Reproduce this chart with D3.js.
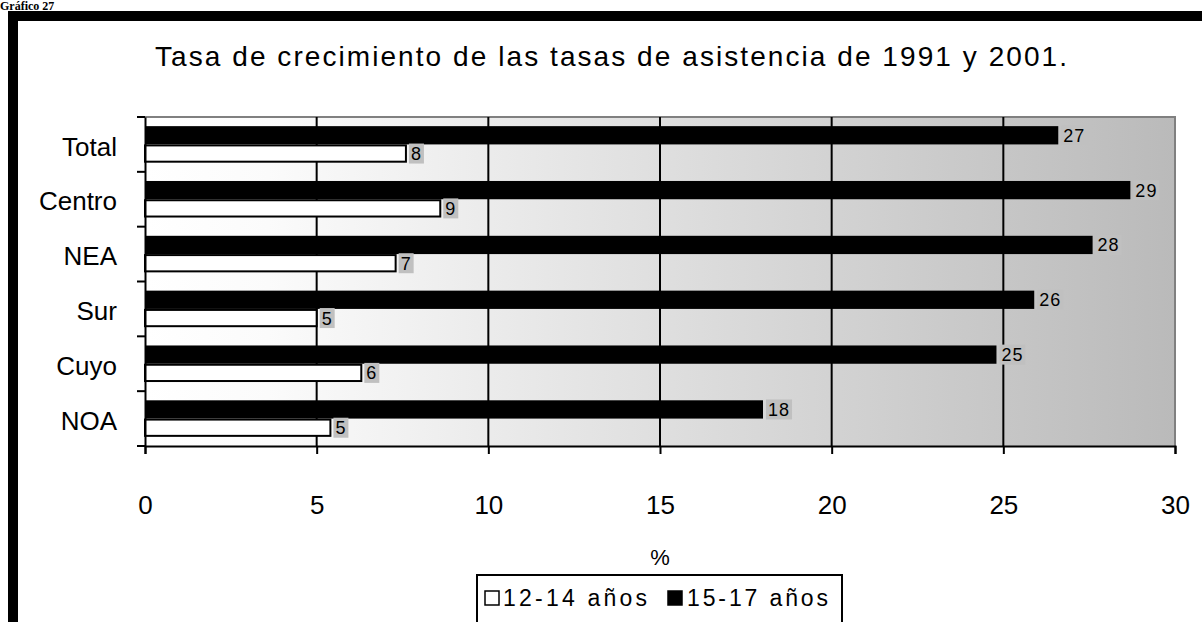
<!DOCTYPE html>
<html>
<head>
<meta charset="utf-8">
<script src="https://cdn.jsdelivr.net/npm/d3@7"></script>
<style>
  html, body { margin: 0; padding: 0; background: #fff; }
  svg { display: block; }
  text { font-family: "Liberation Sans", Arial, sans-serif; fill: #000; }
</style>
</head>
<body>
<svg id="chart" width="1202" height="622"></svg>
<script>
// Growth rate of school attendance rates, 1991 vs 2001, by region (%)
const categories = ["Total", "Centro", "NEA", "Sur", "Cuyo", "NOA"];
const age12to14 = [7.6, 8.6, 7.3, 5.0, 6.3, 5.4];
const age15to17 = [26.6, 28.7, 27.6, 25.9, 24.8, 18.0];
const seriesNames = ["12-14 años", "15-17 años"];
const xTicks = [0, 5, 10, 15, 20, 25, 30];
const titleText = "Tasa de crecimiento de las tasas de asistencia de 1991 y 2001.";
const axisTitle = "%";
const captionText = "Gráfico 27";

const svg = d3.select("#chart");

const plot = { left: 145, right: 1175, top: 117, bottom: 446 };

const x = d3.scaleLinear().domain([0, 30]).range([plot.left, plot.right]);
const y = d3.scaleBand().domain(categories).range([plot.top, plot.bottom]);
// within each category: 15-17 on top, 12-14 underneath
const inner = d3.scaleBand()
  .domain(["15-17", "12-14"])
  .range([0, y.bandwidth()])
  .paddingInner(0)
  .paddingOuter(0.5);

const fmt = d3.format(".0f");

// caption above the frame
svg.append("text")
  .attr("x", 0).attr("y", 10)
  .style("font-family", '"Liberation Serif", "Times New Roman", serif')
  .style("font-weight", "bold")
  .style("font-size", "12px")
  .text(captionText);

// black frame (top and left)
svg.append("rect").attr("x", 8).attr("y", 11).attr("width", 1194).attr("height", 10).attr("fill", "#000");
svg.append("rect").attr("x", 8).attr("y", 11).attr("width", 10).attr("height", 611).attr("fill", "#000");

// title
svg.append("text")
  .attr("x", 155).attr("y", 66)
  .attr("textLength", 912)
  .attr("lengthAdjust", "spacing")
  .style("font-size", "28px")
  .text(titleText);

// plot background gradient
const defs = svg.append("defs");
const grad = defs.append("linearGradient")
  .attr("id", "plotBg")
  .attr("x1", "0%").attr("x2", "100%").attr("y1", "0%").attr("y2", "0%");
grad.append("stop").attr("offset", "0%").attr("stop-color", "#ffffff");
grad.append("stop").attr("offset", "12%").attr("stop-color", "#fbfbfb");
grad.append("stop").attr("offset", "100%").attr("stop-color", "#bababa");

svg.append("rect")
  .attr("x", plot.left).attr("y", plot.top)
  .attr("width", plot.right - plot.left)
  .attr("height", plot.bottom - plot.top)
  .attr("fill", "url(#plotBg)");

// grey border on top and right of the plot area
svg.append("path")
  .attr("d", `M${plot.left},${plot.top}H${plot.right}V${plot.bottom}`)
  .attr("fill", "none")
  .attr("stroke", "#808080")
  .attr("stroke-width", 2);

// vertical gridlines
svg.append("g")
  .selectAll("line")
  .data(xTicks.filter(d => d > 0 && d < 30))
  .join("line")
  .attr("x1", d => x(d)).attr("x2", d => x(d))
  .attr("y1", plot.top).attr("y2", plot.bottom)
  .attr("stroke", "#000")
  .attr("stroke-width", 2);

// bars
const rows = categories.map((c, i) => ({ cat: c, a: age12to14[i], b: age15to17[i] }));

const bars = svg.append("g");
bars.selectAll("rect.older")
  .data(rows)
  .join("rect")
  .attr("class", "older")
  .attr("x", x(0))
  .attr("y", d => y(d.cat) + inner("15-17"))
  .attr("width", d => x(d.b) - x(0))
  .attr("height", inner.bandwidth())
  .attr("fill", "#000");

bars.selectAll("rect.younger")
  .data(rows)
  .join("rect")
  .attr("class", "younger")
  .attr("x", x(0))
  .attr("y", d => y(d.cat) + inner("12-14") + 1)
  .attr("width", d => x(d.a) - x(0))
  .attr("height", inner.bandwidth() - 2)
  .attr("fill", "#fff")
  .attr("stroke", "#000")
  .attr("stroke-width", 2);

// value labels on grey boxes
function addLabels(key, value) {
  const g = svg.append("g").selectAll("g")
    .data(rows)
    .join("g")
    .attr("transform", d => `translate(${x(value(d)) + 3},${y(d.cat) + inner(key) + inner.bandwidth() / 2})`);
  g.append("text")
    .attr("x", 2)
    .attr("dy", "0.36em")
    .style("font-family", '"Liberation Sans Narrow", "Arial Narrow", "Liberation Sans", sans-serif')
    .style("font-size", "18px")
    .style("letter-spacing", "1px")
    .text(d => fmt(value(d)));
  g.insert("rect", "text")
    .attr("x", 0)
    .attr("y", -10)
    .attr("height", 20)
    .attr("width", function () {
      return this.parentNode.querySelector("text").getComputedTextLength() + 4;
    })
    .attr("fill", "#c0c0c0");
}
addLabels("12-14", d => d.a);
addLabels("15-17", d => d.b);

// x axis
const xAxis = svg.append("g")
  .attr("transform", `translate(0,${plot.bottom})`)
  .call(d3.axisBottom(x).tickValues(xTicks).tickSize(8).tickPadding(42).tickFormat(d3.format("d")));
xAxis.select(".domain").attr("stroke", "#000").attr("stroke-width", 2);
xAxis.selectAll(".tick line").attr("stroke", "#000").attr("stroke-width", 2);
xAxis.selectAll(".tick text")
  .style("font-family", '"Liberation Sans", Arial, sans-serif')
  .style("font-size", "26px")
  .attr("fill", "#000");

// y axis with category labels
const yAxis = svg.append("g")
  .attr("transform", `translate(${plot.left},0)`)
  .call(d3.axisLeft(y).tickSize(0).tickPadding(28));
yAxis.select(".domain").attr("stroke", "#000").attr("stroke-width", 2);
yAxis.selectAll(".tick text")
  .attr("dy", "0.43em")
  .style("font-family", '"Liberation Sans", Arial, sans-serif')
  .style("font-size", "26px")
  .attr("fill", "#000");

// tick marks on category boundaries
const bounds = categories.map(c => y(c)).concat([y.range()[1]]);
svg.append("g")
  .selectAll("line")
  .data(bounds)
  .join("line")
  .attr("x1", plot.left - 8).attr("x2", plot.left)
  .attr("y1", d => d).attr("y2", d => d)
  .attr("stroke", "#000")
  .attr("stroke-width", 2);

// axis title
svg.append("text")
  .attr("x", (plot.left + plot.right) / 2)
  .attr("y", 565)
  .attr("text-anchor", "middle")
  .style("font-size", "22px")
  .text(axisTitle);

// legend
const legend = svg.append("g");
legend.append("rect")
  .attr("x", 477).attr("y", 575)
  .attr("width", 365).attr("height", 60)
  .attr("fill", "#fff")
  .attr("stroke", "#000")
  .attr("stroke-width", 2);

const legendItems = [
  { name: seriesNames[0], fill: "#fff", sx: 485, tx: 503, len: 144 },
  { name: seriesNames[1], fill: "#000", sx: 668, tx: 687, len: 141 }
];
legendItems.forEach(it => {
  legend.append("rect")
    .attr("x", it.sx).attr("y", 591)
    .attr("width", 14).attr("height", 14)
    .attr("fill", it.fill)
    .attr("stroke", "#000")
    .attr("stroke-width", 1.5);
  legend.append("text")
    .attr("x", it.tx).attr("y", 606)
    .attr("textLength", it.len)
    .attr("lengthAdjust", "spacing")
    .style("font-size", "23px")
    .text(it.name);
});
</script>
</body>
</html>
